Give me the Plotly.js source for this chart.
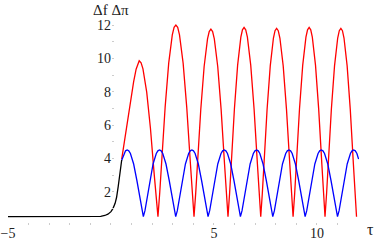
<!DOCTYPE html>
<html>
<head>
<meta charset="utf-8">
<script src="https://cdn.plot.ly/plotly-3.0.1.min.js"></script>
<style>
  html, body { margin: 0; padding: 0; background: #ffffff; }
  #chart { width: 374px; height: 245px; }
</style>
</head>
<body>
<div id="chart"></div>
<script>
// ---- data ----
const blackX = [-5, -2, -1, -0.7, -0.5, -0.3, -0.15, 0, 0.1, 0.2, 0.27, 0.35, 0.43, 0.48, 0.52];
const blackY = [0.5, 0.5, 0.5, 0.51, 0.52, 0.57, 0.65, 0.8, 1.0, 1.3, 1.65, 2.3, 3.05, 3.5, 3.9];

const redX = [
  0.52, 0.65, 0.8, 0.95, 1.1, 1.22, 1.3, 1.37,
  1.461, 1.552, 1.734, 1.916, 2.098, 2.189, 2.28,
  2.367, 2.454, 2.628, 2.802, 2.976, 3.063, 3.15,
  3.238, 3.326, 3.502, 3.678, 3.854, 3.942, 4.03,
  4.112, 4.194, 4.358, 4.522, 4.686, 4.768, 4.85,
  4.933, 5.016, 5.182, 5.348, 5.514, 5.597, 5.68,
  5.758, 5.836, 5.992, 6.148, 6.304, 6.382, 6.46,
  6.541, 6.622, 6.784, 6.946, 7.108, 7.189, 7.27,
  7.347, 7.424, 7.578, 7.732, 7.886, 7.963, 8.04,
  8.12, 8.2, 8.36, 8.52, 8.68, 8.76, 8.84,
  8.918, 8.996, 9.152, 9.308, 9.464, 9.542, 9.62,
  9.697, 9.774, 9.928, 10.082, 10.236, 10.313, 10.39,
  10.467, 10.544, 10.698, 10.852, 11.006, 11.083, 11.16,
  11.236, 11.312, 11.464, 11.616, 11.768, 11.844, 11.92
];
const redY = [
  3.95, 5.0, 6.3, 7.6, 8.6, 9.35, 9.7, 9.85,
  9.73, 9.37, 7.97, 5.79, 3.04, 1.62, 0.5,
  1.95, 3.71, 7.06, 9.71, 11.41, 11.86, 12.0,
  11.86, 11.41, 9.71, 7.06, 3.71, 1.95, 0.5,
  1.9, 3.63, 6.91, 9.51, 11.17, 11.61, 11.75,
  11.61, 11.17, 9.51, 6.91, 3.63, 1.9, 0.5,
  1.9, 3.66, 6.97, 9.59, 11.27, 11.71, 11.85,
  11.71, 11.27, 9.59, 6.97, 3.66, 1.9, 0.5,
  1.9, 3.65, 6.94, 9.55, 11.22, 11.66, 11.8,
  11.66, 11.22, 9.55, 6.94, 3.65, 1.9, 0.5,
  1.9, 3.66, 6.97, 9.59, 11.27, 11.71, 11.85,
  11.71, 11.27, 9.59, 6.97, 3.66, 1.9, 0.5,
  1.9, 3.65, 6.94, 9.55, 11.22, 11.66, 11.8,
  11.66, 11.22, 9.55, 6.94, 3.65, 1.9, 0.5
];

const blueX = [
  0.52, 0.628, 0.706, 0.785, 0.864, 0.943, 1.1, 1.257, 1.414, 1.492, 1.571,
  1.649, 1.728, 1.885, 2.042, 2.199, 2.277, 2.356, 2.435, 2.513, 2.67, 2.827, 2.985, 3.063, 3.142,
  3.22, 3.299, 3.456, 3.613, 3.77, 3.848, 3.927, 4.006, 4.084, 4.241, 4.398, 4.555, 4.634, 4.712,
  4.791, 4.869, 5.027, 5.184, 5.341, 5.419, 5.498, 5.577, 5.655, 5.812, 5.969, 6.126, 6.204, 6.283,
  6.362, 6.44, 6.597, 6.754, 6.911, 6.99, 7.069, 7.148, 7.226, 7.383, 7.54, 7.697, 7.775, 7.854,
  7.933, 8.011, 8.168, 8.325, 8.482, 8.56, 8.639, 8.718, 8.796, 8.953, 9.111, 9.268, 9.346, 9.425,
  9.503, 9.582, 9.739, 9.896, 10.053, 10.131, 10.21, 10.289, 10.367, 10.524, 10.681, 10.838, 10.917, 10.996,
  11.074, 11.153, 11.31, 11.467, 11.624, 11.702, 11.781, 11.86, 11.938, 12.02
];
const blueY = [
  3.88, 4.29, 4.45, 4.5, 4.45, 4.29, 3.66, 2.67, 1.47, 0.86, 0.5,
  0.86, 1.47, 2.67, 3.66, 4.29, 4.45, 4.5, 4.45, 4.29, 3.66, 2.67, 1.47, 0.86, 0.5,
  0.86, 1.47, 2.67, 3.66, 4.29, 4.45, 4.5, 4.45, 4.29, 3.66, 2.67, 1.47, 0.86, 0.5,
  0.86, 1.47, 2.67, 3.66, 4.29, 4.45, 4.5, 4.45, 4.29, 3.66, 2.67, 1.47, 0.86, 0.5,
  0.86, 1.47, 2.67, 3.66, 4.29, 4.45, 4.5, 4.45, 4.29, 3.66, 2.67, 1.47, 0.86, 0.5,
  0.86, 1.47, 2.67, 3.66, 4.29, 4.45, 4.5, 4.45, 4.29, 3.66, 2.67, 1.47, 0.86, 0.5,
  0.86, 1.47, 2.67, 3.66, 4.29, 4.45, 4.5, 4.45, 4.29, 3.66, 2.67, 1.47, 0.86, 0.5,
  0.86, 1.47, 2.67, 3.66, 4.29, 4.45, 4.5, 4.45, 4.29, 3.95
];

const xTickVals = [-5, -4, -3, -2, -1, 0, 1, 2, 3, 4, 5, 6, 7, 8, 9, 10, 11, 12];
const xTickText = ['\u22125', '', '', '', '', '', '', '', '', '', '5', '', '', '', '', '10', '', ''];
const yTickVals = [1, 2, 3, 4, 5, 6, 7, 8, 9, 10, 11, 12];
const yTickText = ['', '2', '', '4', '', '6', '', '8', '', '10', '', '12'];
const yLabel = '\u0394f \u0394\u03c0';
const xLabel = '\u03c4';

// ---- chart ----
const lineW = 1.3;
const traces = [
  {x: redX, y: redY, mode: 'lines', line: {color: '#ff0000', width: lineW}, hoverinfo: 'skip'},
  {x: blueX, y: blueY, mode: 'lines', line: {color: '#0000ff', width: lineW}, hoverinfo: 'skip'},
  {x: blackX, y: blackY, mode: 'lines', line: {color: '#000000', width: lineW}, hoverinfo: 'skip'}
];

const serif = "'Liberation Serif', 'Times New Roman', serif";
const tickFont = {family: serif, size: 14, color: '#222222'};
const xRange = [-5, 12.04];

const layout = {
  width: 374, height: 245,
  margin: {l: 8, r: 15, t: 20, b: 20},
  paper_bgcolor: '#ffffff', plot_bgcolor: '#ffffff',
  showlegend: false,
  xaxis: {
    range: xRange, tickmode: 'array', tickvals: xTickVals, ticktext: xTickText,
    ticks: 'inside', ticklen: 2, tickwidth: 1, tickcolor: '#cccccc', ticklabelstandoff: -2,
    showgrid: false, zeroline: false, showline: false, tickfont: tickFont, fixedrange: true
  },
  yaxis: {
    range: [0, 12.3], anchor: 'free', position: (0 - xRange[0]) / (xRange[1] - xRange[0]),
    tickmode: 'array', tickvals: yTickVals, ticktext: yTickText,
    ticks: 'inside', ticklen: 2, tickwidth: 1, tickcolor: '#cccccc',
    showgrid: false, zeroline: false, showline: false, tickfont: tickFont, fixedrange: true
  },
  annotations: [
    {text: yLabel, xref: 'x', x: 0, yref: 'paper', y: 1, xanchor: 'center', yanchor: 'middle',
     yshift: 10, showarrow: false, font: {family: serif, size: 15, color: '#222222'}},
    {text: xLabel, xref: 'paper', x: 1, yref: 'y', y: 0, xanchor: 'left', yanchor: 'middle',
     xshift: 6, yshift: -4, showarrow: false, font: {family: serif, size: 16, color: '#222222'}}
  ]
};

Plotly.newPlot('chart', traces, layout, {staticPlot: true, displayModeBar: false});
</script>
</body>
</html>
